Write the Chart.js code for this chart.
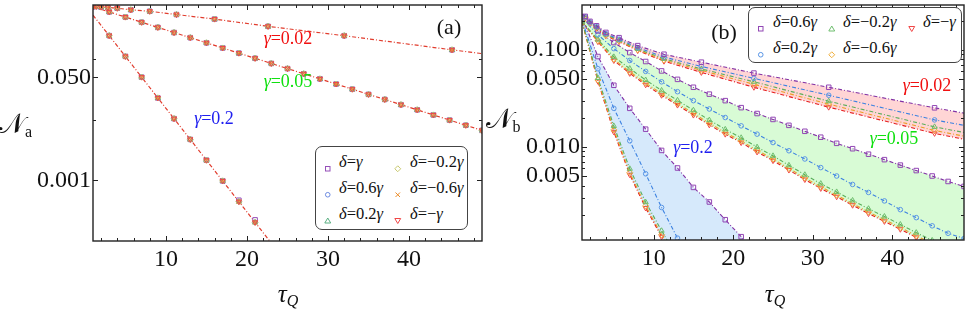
<!DOCTYPE html>
<html>
<head>
<meta charset="utf-8">
<script src="https://cdn.jsdelivr.net/npm/chart.js@4.4.1/dist/chart.umd.min.js"></script>
<style>
body { margin: 0; background: #fff; }
#wrap { position: relative; width: 969px; height: 311px; font-family: 'Liberation Serif', 'Times New Roman', serif; color: #111; }
canvas { position: absolute; top: 0; }
.t { position: absolute; white-space: nowrap; line-height: 1; transform: translate(-50%, -50%); }
.lg { position: absolute; border: 1.2px solid #444; border-radius: 7px; background: #fff; box-sizing: border-box; }
.li { position: absolute; white-space: nowrap; line-height: 1; font-size: 16.5px; transform: translateY(-50%); }
.mk { position: absolute; }
sub { font-size: 16px; vertical-align: -0.3em; font-style: normal; }
</style>
</head>
<body>
<div id="wrap">
  <canvas id="ca" width="490" height="311" style="left:0"></canvas>
  <canvas id="cb" width="479" height="311" style="left:490px"></canvas>

  <div class="t" style="left:449px;top:27px;font-size:22px">(a)</div>
  <div class="t" style="left:724px;top:32px;font-size:22px">(b)</div>

  <div class="t" style="left:288px;top:38px;font-size:18px;color:#f01010"><i>γ</i>=0.02</div>
  <div class="t" style="left:288px;top:81px;font-size:18px;color:#10e010"><i>γ</i>=0.05</div>
  <div class="t" style="left:214px;top:118px;font-size:18px;color:#2020f0"><i>γ</i>=0.2</div>
  <div class="t" style="left:927px;top:85px;font-size:18px;color:#f01010"><i>γ</i>=0.02</div>
  <div class="t" style="left:894px;top:138px;font-size:18px;color:#10e010"><i>γ</i>=0.05</div>
  <div class="t" style="left:693px;top:147px;font-size:18px;color:#2020f0"><i>γ</i>=0.2</div>

  <div class="t" style="left:15px;top:125px;font-size:28px">𝒩<sub>a</sub></div>
  <div class="t" style="left:503px;top:120px;font-size:28px">𝒩<sub>b</sub></div>
  <div class="t" style="left:288px;top:295px;font-size:25px"><i>τ</i><sub><i>Q</i></sub></div>
  <div class="t" style="left:775px;top:295px;font-size:25px"><i>τ</i><sub><i>Q</i></sub></div>
</div>
<script>
// ---------- axis ticks ----------
const xTicks = [2,4,6,8,10,12,14,16,18,20,22,24,26,28,30,32,34,36,38,40,42,44,46,48];
const xMajor = [10, 20, 30, 40];
const yTicksA = [0.1, 0.05, 0.01, 0.001];
const yMajorA = [0.05, 0.001];
const yLabelsA = ['0.050', '0.001'];
const yTicksB = [0.2, 0.1, 0.09, 0.08, 0.07, 0.06, 0.05, 0.04, 0.03, 0.02, 0.01, 0.009, 0.008, 0.007, 0.006, 0.005, 0.004, 0.003, 0.002];
const yMajorB = [0.1, 0.05, 0.01, 0.005];
const yLabelsB = ['0.100', '0.050', '0.010', '0.005'];

// ---------- panel (a) data ----------
const tauA02 = [1, 1.41, 2, 2.83, 4, 5.66, 8, 11.3, 16, 22.6, 32, 45.3, 49];
const valA02 = [0.75, 0.74, 0.72, 0.71, 0.69, 0.65, 0.615, 0.543, 0.457, 0.347, 0.243, 0.142, 0.123];
const tauA05 = [1,3,5,7,9,11,13,15,17,19,21,23,25,27,29,31,33,35,37,39,41,43,45,47,49];
const valA05 = [0.729, 0.600, 0.493, 0.405, 0.3335, 0.274, 0.2256, 0.1855, 0.1525, 0.1254, 0.1031, 0.0848,
                0.0697, 0.0573, 0.0472, 0.0388, 0.0319, 0.0262, 0.0216, 0.0177, 0.01458, 0.01199, 0.00986, 0.00811, 0.00667];
const tauA20 = [1,3,5,7,9,11,13,15,17,19,21,23];
const valA20 = [0.53, 0.2437, 0.1108, 0.0504, 0.0229, 0.01042, 0.00474, 0.00215, 0.00098, 0.000446, 0.000203, 0.0000925];
const valA20sq = [0.53, 0.2437, 0.1108, 0.0504, 0.0229, 0.01042, 0.00474, 0.00215, 0.00098, 0.00047, 0.000223, 0.0001];

// ---------- panel (b) data ----------
const tauB02 = [1, 1.41, 2, 2.83, 4, 5.66, 8, 11.3, 16, 22.6, 32, 45.3, 49];
const b02p = [0.235, 0.2214, 0.1968, 0.1771, 0.1513, 0.1336, 0.1106, 0.0902, 0.0747, 0.0577, 0.0412, 0.0253, 0.0223];
const b02b = [0.232, 0.2188, 0.1931, 0.1730, 0.1467, 0.1289, 0.1055, 0.0844, 0.0675, 0.0509, 0.0341, 0.0190, 0.0167];
const b02g = [0.230, 0.2167, 0.1913, 0.1707, 0.1439, 0.1256, 0.1024, 0.0809, 0.0637, 0.0469, 0.0296, 0.0161, 0.0141];
const b02o = [0.229, 0.2152, 0.1900, 0.1690, 0.1419, 0.1236, 0.1002, 0.0787, 0.0615, 0.0442, 0.0276, 0.0148, 0.0129];
const b02r = [0.228, 0.2138, 0.1887, 0.1670, 0.1400, 0.1216, 0.0984, 0.0765, 0.0586, 0.0412, 0.0257, 0.0138, 0.0120];

const tauB05 = [1,3,5,7,9,11,13,15,17,19,21,23,25,27,29,31,33,35,37,39,41,43,45,47,49];
const b05p = [0.219, 0.157, 0.119, 0.0938, 0.0759, 0.0607, 0.0497, 0.0412, 0.0350, 0.0300, 0.0254, 0.0221, 0.0192,
              0.0167, 0.0145, 0.0126, 0.0109, 0.00959, 0.00842, 0.0074, 0.0065, 0.00571, 0.00502, 0.00441, 0.00392];
const b05b = [0.2138, 0.1433, 0.1031, 0.0778, 0.0600, 0.0469, 0.0371, 0.0300, 0.0246, 0.0201, 0.0165, 0.01355, 0.0111,
              0.00914, 0.00752, 0.00613, 0.00502, 0.00411, 0.00340, 0.00278, 0.00226, 0.00187, 0.00154, 0.00129, 0.00114];
const b05g = [0.196, 0.1276, 0.0848, 0.0642, 0.0489, 0.0382, 0.0302, 0.0239, 0.0189, 0.01518, 0.01243, 0.00996, 0.0081,
              0.00647, 0.00517, 0.00419, 0.00344, 0.00281, 0.00231, 0.00192, 0.00159, 0.00131, 0.00109, 0.0009, 0.00074];
const b05o = [0.195, 0.1240, 0.0802, 0.0596, 0.0454, 0.0355, 0.0281, 0.0222, 0.0176, 0.01409, 0.01154, 0.00925, 0.00752,
              0.00601, 0.0048, 0.00389, 0.00319, 0.00261, 0.00214, 0.00178, 0.00148, 0.00122, 0.00101, 0.00083, 0.00069];
const b05r = [0.195, 0.1215, 0.0778, 0.0573, 0.0437, 0.0341, 0.0270, 0.0213, 0.0169, 0.01355, 0.0111, 0.00889, 0.00723,
              0.00578, 0.00462, 0.00374, 0.00307, 0.00251, 0.00206, 0.00171, 0.00142, 0.00117, 0.00097, 0.00080, 0.00066];

const tauB20 = [1,3,5,7,9,11,13,15,17,19,21,23];
const b20p = [0.219, 0.0854, 0.0432, 0.025, 0.01524, 0.00921, 0.00607, 0.00383, 0.00271, 0.00178, 0.00119, 0.00081];
const b20b = [0.204, 0.064, 0.025, 0.01157, 0.00529, 0.00238, 0.00115, 0.00057, 0.00028, 0.00014, 0.00007, 0.000035];
const b20g = [0.196, 0.0513, 0.01645, 0.00596, 0.0027, 0.00137, 0.00072, 0.00039, 0.00022, 0.000115, 0.000064, 0.000035];
const b20o = [0.195, 0.0489, 0.0150, 0.00544, 0.00247, 0.00125, 0.00066, 0.00036, 0.0002, 0.000105, 0.000059, 0.000032];
const b20r = [0.195, 0.0475, 0.0143, 0.00518, 0.00235, 0.00119, 0.00063, 0.00034, 0.00019, 0.0001, 0.000056, 0.00003];

const labelsA = ['δ=γ', 'δ=0.6γ', 'δ=0.2γ', 'δ=−0.2γ', 'δ=−0.6γ', 'δ=−γ'];
const labelsB = ['δ=0.6γ', 'δ=0.2γ', 'δ=−0.2γ', 'δ=−0.6γ', 'δ=−γ'];

// ---------- styles ----------
const FONT = "'Liberation Serif', 'Times New Roman', serif";
Chart.defaults.font.family = FONT;
const DASH = [4, 2, 1, 2];
const markA = [
  {style: 'rect', rot: 0, r: 3.2, color: 'rgb(150,80,185)'},
  {style: 'circle', rot: 0, r: 2.3, color: 'rgb(110,140,225)'},
  {style: 'triangle', rot: 0, r: 3, color: 'rgb(90,175,130)'},
  {style: 'rectRot', rot: 0, r: 3, color: 'rgb(200,200,110)'},
  {style: 'crossRot', rot: 0, r: 3, color: 'rgb(235,140,40)'},
  {style: 'triangle', rot: 180, r: 3, color: 'rgb(240,70,70)'}
];
const markB = [
  {style: 'rect', rot: 0, r: 3.2, color: 'rgb(145,70,180)', line: 'rgb(130,50,165)'},
  {style: 'circle', rot: 0, r: 2.3, color: 'rgb(90,150,230)', line: 'rgb(60,130,225)'},
  {style: 'triangle', rot: 0, r: 3, color: 'rgb(110,190,110)', line: 'rgb(90,175,90)'},
  {style: 'rectRot', rot: 0, r: 3, color: 'rgb(240,175,60)', line: 'rgb(235,160,40)'},
  {style: 'triangle', rot: 180, r: 3, color: 'rgb(240,70,70)', line: 'rgb(230,30,30)'}
];

function pts(tau, vals) {
  return tau.map((t, i) => ({x: t, y: vals[i]}));
}
function radius(r, hideEnds, n) {
  return ctx => (hideEnds && (ctx.dataIndex === 0 || ctx.dataIndex === n - 1)) ? 0 : r;
}

// ---------- panel (a) datasets ----------
const groupsA = [
  {tau: tauA02, vals: valA02, sq: valA02, hide: true},
  {tau: tauA05, vals: valA05, sq: valA05, hide: false},
  {tau: tauA20, vals: valA20, sq: valA20sq, hide: true}
];
const dsA = [];
for (let k = markA.length - 1; k >= 0; k--) {
  const m = markA[k];
  groupsA.forEach(g => {
    dsA.push({
      data: pts(g.tau, k === 0 ? g.sq : g.vals),
      showLine: false,
      pointStyle: m.style,
      pointRotation: m.rot,
      pointRadius: radius(m.r, g.hide, g.tau.length),
      pointBorderColor: m.color,
      pointBackgroundColor: 'rgba(0,0,0,0)',
      pointBorderWidth: 1
    });
  });
}
// red dot-dashed lines through each group
groupsA.forEach(g => {
  dsA.push({
    data: pts(g.tau, g.vals),
    showLine: true,
    pointRadius: 0,
    borderColor: 'rgb(225,60,45)',
    borderWidth: 1.2,
    borderDash: DASH,
    fill: false
  });
});

// ---------- panel (b) datasets ----------
const groupsB = [
  {tau: tauB02, series: [b02p, b02b, b02g, b02o, b02r], fillColor: 'rgba(255,190,190,0.65)', hide: true},
  {tau: tauB05, series: [b05p, b05b, b05g, b05o, b05r], fillColor: 'rgba(200,250,195,0.7)', hide: false},
  {tau: tauB20, series: [b20p, b20b, b20g, b20o, b20r], fillColor: 'rgba(200,225,250,0.75)', hide: false}
];
const dsB = [];
groupsB.forEach(g => {
  const base = dsB.length;
  g.series.forEach((vals, k) => {
    const m = markB[k];
    dsB.push({
      data: pts(g.tau, vals),
      showLine: true,
      borderColor: m.line,
      borderWidth: 1.1,
      borderDash: DASH,
      pointStyle: m.style,
      pointRotation: m.rot,
      pointRadius: radius(m.r, g.hide, g.tau.length),
      pointBorderColor: m.color,
      pointBackgroundColor: 'rgba(0,0,0,0)',
      pointBorderWidth: 1,
      fill: k === 0 ? {target: base + 4, above: g.fillColor, below: g.fillColor} : false
    });
  });
});

// frame with inward ticks on all four sides
const framePlugin = {
  id: 'frame',
  afterDraw(chart) {
    const {ctx, chartArea: a, scales} = chart;
    ctx.save();
    ctx.strokeStyle = '#222';
    ctx.lineWidth = 1.4;
    ctx.strokeRect(a.left, a.top, a.right - a.left, a.bottom - a.top);
    ctx.lineWidth = 1;
    ctx.beginPath();
    scales.x.ticks.forEach(t => {
      const px = Math.round(scales.x.getPixelForValue(t.value)) + 0.5;
      const len = t.label ? 5 : 3;
      ctx.moveTo(px, a.bottom); ctx.lineTo(px, a.bottom - len);
      ctx.moveTo(px, a.top); ctx.lineTo(px, a.top + len);
    });
    scales.y.ticks.forEach(t => {
      const py = Math.round(scales.y.getPixelForValue(t.value)) + 0.5;
      const len = t.label ? 5 : 3;
      ctx.moveTo(a.left, py); ctx.lineTo(a.left + len, py);
      ctx.moveTo(a.right, py); ctx.lineTo(a.right - len, py);
    });
    ctx.stroke();
    ctx.restore();
  }
};

function options(o) {
  return {
    responsive: false,
    animation: false,
    devicePixelRatio: 1,
    layout: {padding: {top: o.padTop, right: o.padRight, left: 0, bottom: 0}},
    elements: {line: {tension: 0}},
    plugins: {
      legend: {display: false},
      tooltip: {enabled: false},
      filler: {drawTime: 'beforeDatasetsDraw'}
    },
    scales: {
      x: {
        type: 'linear', min: 1, max: 49,
        grid: {display: false, drawTicks: false},
        border: {display: false},
        afterBuildTicks: s => { s.ticks = xTicks.map(v => ({value: v})); },
        afterFit: s => { s.height = o.xH; s.paddingLeft = 0; s.paddingRight = 0; },
        ticks: {
          autoSkip: false, maxRotation: 0, padding: 4, color: '#111',
          font: {family: FONT, size: 24},
          callback: v => xMajor.includes(v) ? String(v) : ''
        }
      },
      y: {
        type: 'logarithmic', min: o.yMin, max: o.yMax,
        grid: {display: false, drawTicks: false},
        border: {display: false},
        afterBuildTicks: s => { s.ticks = o.yTicks.map(v => ({value: v})); },
        afterFit: s => { s.width = o.yW; s.paddingTop = 0; s.paddingBottom = 0; },
        ticks: {
          autoSkip: false, padding: 2, color: '#111',
          font: {family: FONT, size: 24},
          callback: v => { const i = o.yMajor.indexOf(v); return i >= 0 ? o.yLabels[i] : ''; }
        }
      }
    }
  };
}

new Chart(document.getElementById('ca'), {
  type: 'scatter',
  data: {datasets: dsA},
  options: options({padTop: 1, padRight: 8, xH: 70, yW: 93, yMin: 0.0001, yMax: 0.78,
                    yTicks: yTicksA, yMajor: yMajorA, yLabels: yLabelsA}),
  plugins: [framePlugin]
});

new Chart(document.getElementById('cb'), {
  type: 'scatter',
  data: {datasets: dsB},
  options: options({padTop: 3, padRight: 4, xH: 71, yW: 92, yMin: 0.0011, yMax: 0.29,
                    yTicks: yTicksB, yMajor: yMajorB, yLabels: yLabelsB}),
  plugins: [framePlugin]
});

// ---------- HTML legends ----------
function markerSvg(style, rot, color) {
  let shape;
  if (style === 'rect') shape = '<rect x="1.5" y="1.5" width="4.5" height="4.5"/>';
  else if (style === 'circle') shape = '<circle cx="3.75" cy="3.75" r="2.3"/>';
  else if (style === 'rectRot') shape = '<polygon points="3.75,0.8 6.7,3.75 3.75,6.7 0.8,3.75"/>';
  else if (style === 'crossRot') shape = '<path d="M1.5,1.5L6,6M6,1.5L1.5,6"/>';
  else if (rot === 180) shape = '<polygon points="0.8,1.5 6.7,1.5 3.75,6.5"/>';
  else shape = '<polygon points="3.75,1 6.7,6 0.8,6"/>';
  return '<svg width="7.5" height="7.5" fill="none" stroke="' + color + '" stroke-width="1">' + shape + '</svg>';
}
function fmt(label) {
  return label.replace(/δ/g, '<i>δ</i>').replace(/γ/g, '<i>γ</i>');
}
function buildLegend(box, cols, rows, labels, marks) {
  const wrap = document.getElementById('wrap');
  const b = document.createElement('div');
  b.className = 'lg';
  b.style.left = box[0] + 'px'; b.style.top = box[1] + 'px';
  b.style.width = box[2] + 'px'; b.style.height = box[3] + 'px';
  wrap.appendChild(b);
  labels.forEach((lab, i) => {
    const c = cols[Math.floor(i / rows.length)];
    const y = rows[i % rows.length];
    const m = document.createElement('div');
    m.className = 'mk';
    m.style.left = (c[0] - 3.75) + 'px'; m.style.top = (y - 3.75) + 'px';
    m.innerHTML = markerSvg(marks[i].style, marks[i].rot, marks[i].color);
    wrap.appendChild(m);
    const t = document.createElement('div');
    t.className = 'li';
    t.style.left = c[1] + 'px'; t.style.top = y + 'px';
    t.innerHTML = fmt(lab);
    wrap.appendChild(t);
  });
}
buildLegend([315, 146, 153, 84], [[328, 339], [398, 410]], [162, 188, 214], labelsA, markA);
buildLegend([748, 7, 214, 56], [[761, 773], [832, 843], [912, 923]], [22, 48], labelsB, markB);
</script>
</body>
</html>
